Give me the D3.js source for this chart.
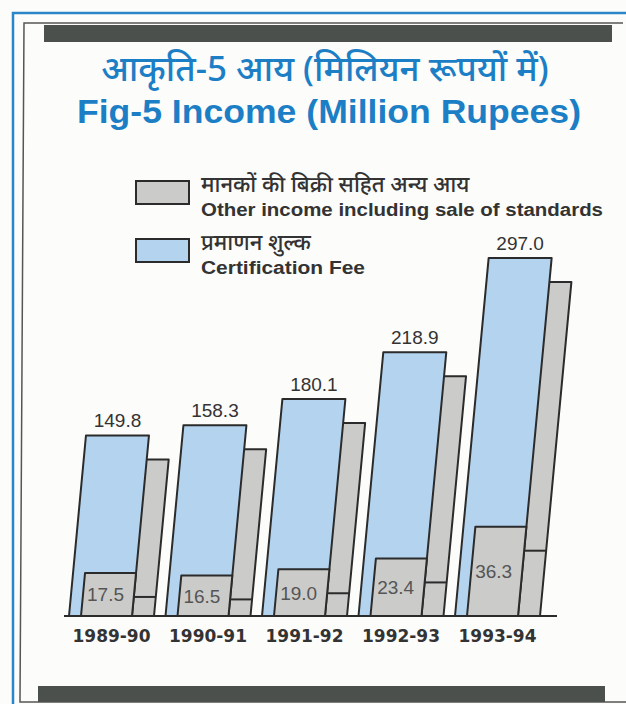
<!DOCTYPE html>
<html>
<head>
<meta charset="utf-8">
<script src="https://cdn.jsdelivr.net/npm/d3@7"></script>
<style>
body { margin: 0; background: #fcfcfa; }
svg { display: block; }
</style>
</head>
<body>
<div id="chart"></div>
<script>
// data
var categories = ["1989-90", "1990-91", "1991-92", "1992-93", "1993-94"];
var certificationFee = [149.8, 158.3, 180.1, 218.9, 297.0];
var otherIncome = [17.5, 16.5, 19.0, 23.4, 36.3];

var titleHi = "आकृति-5 आय (मिलियन रूपयों में)";
var titleEn = "Fig-5 Income (Million Rupees)";
var legendHi = ["मानकों की बिक्री सहित अन्य आय", "प्रमाणन शुल्क"];
var legendEn = ["Other income including sale of standards", "Certification Fee"];

var WIDTH = 626,
	HEIGHT = 704,
	BASE = 616;

var BAR_W = 63,
	SLANT = 0.094,   // bars lean right
	DEPTH_X = 22,    // offset of the grey "back" slab
	DEPTH_Y = 24,
	BOX_INSET = 12;

var BLUE = "#b3d3ef",
	GREY = "#cbcbca",
	INK = "#2b2b2b",
	TITLE = "#1c7fc6";

// scales
var xScale = d3.scaleBand().domain(categories).range([69, 551.5]);
var yFee = d3.scaleLinear().domain([0, 300]).range([BASE, BASE - 361.5]);
var yOther = d3.scaleLinear().domain([0, 40]).range([BASE, BASE - 98.4]);

var rows = categories.map(function(c, i) {
	return {cat: c, fee: certificationFee[i], other: otherIncome[i]};
});

var svg = d3.select("#chart").append("svg")
	.attr("width", WIDTH)
	.attr("height", HEIGHT);

// frame
svg.append("path")
	.attr("d", "M13,704 L13,13 L626,13")
	.attr("fill", "none").attr("stroke", "#2a86c8").attr("stroke-width", 2.5);
svg.append("path")
	.attr("d", "M623,23 L24,23 L20,702 L626,702")
	.attr("fill", "none").attr("stroke", "#555").attr("stroke-width", 1.5);
svg.append("rect").attr("x", 44).attr("y", 25).attr("width", 568).attr("height", 17).attr("fill", "#4b504d");
svg.append("rect").attr("x", 38).attr("y", 686).attr("width", 567).attr("height", 16).attr("fill", "#4b504d");

function fit(sel, w) {
	sel.attr("textLength", w).attr("lengthAdjust", "spacingAndGlyphs");
}

// titles
svg.append("text")
	.attr("x", 325).attr("y", 81)
	.attr("text-anchor", "middle")
	.style("font", "500 35px 'Noto Sans', sans-serif")
	.attr("fill", TITLE)
	.text(titleHi);
svg.append("text")
	.attr("x", 77).attr("y", 123)
	.style("font", "bold 33px 'Liberation Sans', Arial, sans-serif")
	.attr("fill", TITLE)
	.text(titleEn)
	.call(fit, 504);

// legend
var legendFill = [GREY, BLUE];
var legendY = [181, 239];
legendY.forEach(function(y, i) {
	svg.append("rect")
		.attr("x", 136).attr("y", y).attr("width", 53).attr("height", 23)
		.attr("fill", legendFill[i]).attr("stroke", INK).attr("stroke-width", 2);
	svg.append("text")
		.attr("x", 201).attr("y", y + 11)
		.style("font", "500 22px 'Noto Sans', sans-serif")
		.attr("fill", "#333")
		.text(legendHi[i]);
	svg.append("text")
		.attr("x", 201).attr("y", y + 35)
		.style("font", "bold 18px 'Liberation Sans', Arial, sans-serif")
		.attr("fill", "#333")
		.text(legendEn[i])
		.call(fit, i == 0 ? 402 : 164);
});

// slanted slab from baseline up to "top"
function slab(x0, w, top) {
	var h = BASE - top;
	return "M" + x0 + "," + BASE +
		"L" + (x0 + w) + "," + BASE +
		"L" + (x0 + w + SLANT * h) + "," + top +
		"L" + (x0 + SLANT * h) + "," + top + "Z";
}

var bars = svg.append("g").selectAll("g")
	.data(rows)
	.enter().append("g");

// back slab
bars.append("path")
	.attr("d", function(d) { return slab(xScale(d.cat) + DEPTH_X, BAR_W, yFee(d.fee) + DEPTH_Y); })
	.attr("fill", GREY).attr("stroke", INK).attr("stroke-width", 2).attr("stroke-linejoin", "round");

// back edge of the other-income box
bars.append("line")
	.attr("x1", function(d) { return xScale(d.cat) + BAR_W + SLANT * (BASE - yOther(d.other) - DEPTH_Y); })
	.attr("x2", function(d) { return xScale(d.cat) + BAR_W + DEPTH_X + SLANT * (BASE - yOther(d.other) - DEPTH_Y); })
	.attr("y1", function(d) { return yOther(d.other) + DEPTH_Y; })
	.attr("y2", function(d) { return yOther(d.other) + DEPTH_Y; })
	.attr("stroke", INK).attr("stroke-width", 2);

// certification fee bar
bars.append("path")
	.attr("d", function(d) { return slab(xScale(d.cat), BAR_W, yFee(d.fee)); })
	.attr("fill", BLUE).attr("stroke", INK).attr("stroke-width", 2).attr("stroke-linejoin", "round");

// other income box
bars.append("path")
	.attr("d", function(d) { return slab(xScale(d.cat) + BOX_INSET, BAR_W - BOX_INSET, yOther(d.other)); })
	.attr("fill", GREY).attr("stroke", INK).attr("stroke-width", 2).attr("stroke-linejoin", "round");

// value labels
bars.append("text")
	.attr("x", function(d) { return xScale(d.cat) + BAR_W / 2 + SLANT * (BASE - yFee(d.fee)); })
	.attr("y", function(d) { return yFee(d.fee) - 8; })
	.attr("text-anchor", "middle")
	.style("font", "19px 'Liberation Sans', Arial, sans-serif")
	.attr("fill", "#333")
	.text(function(d) { return d.fee.toFixed(1); });

bars.append("text")
	.attr("x", function(d) {
		var y = (yOther(d.other) + BASE) / 2;
		return xScale(d.cat) + BOX_INSET + SLANT * (BASE - y) + 4;
	})
	.attr("y", function(d) { return (yOther(d.other) + BASE) / 2 + 7; })
	.style("font", "19px 'Liberation Sans', Arial, sans-serif")
	.attr("fill", "#555")
	.text(function(d) { return d.other.toFixed(1); });

// baseline
svg.append("line")
	.attr("x1", 64).attr("x2", 557)
	.attr("y1", BASE).attr("y2", BASE)
	.attr("stroke", INK).attr("stroke-width", 2);

// category labels
svg.append("g").selectAll("text")
	.data(categories)
	.enter().append("text")
	.attr("x", function(d) { return xScale(d) + (BAR_W + DEPTH_X) / 2; })
	.attr("y", 642)
	.attr("text-anchor", "middle")
	.style("font", "bold 17px 'DejaVu Sans', sans-serif")
	.attr("fill", "#333")
	.text(function(d) { return d; });
</script>
</body>
</html>
